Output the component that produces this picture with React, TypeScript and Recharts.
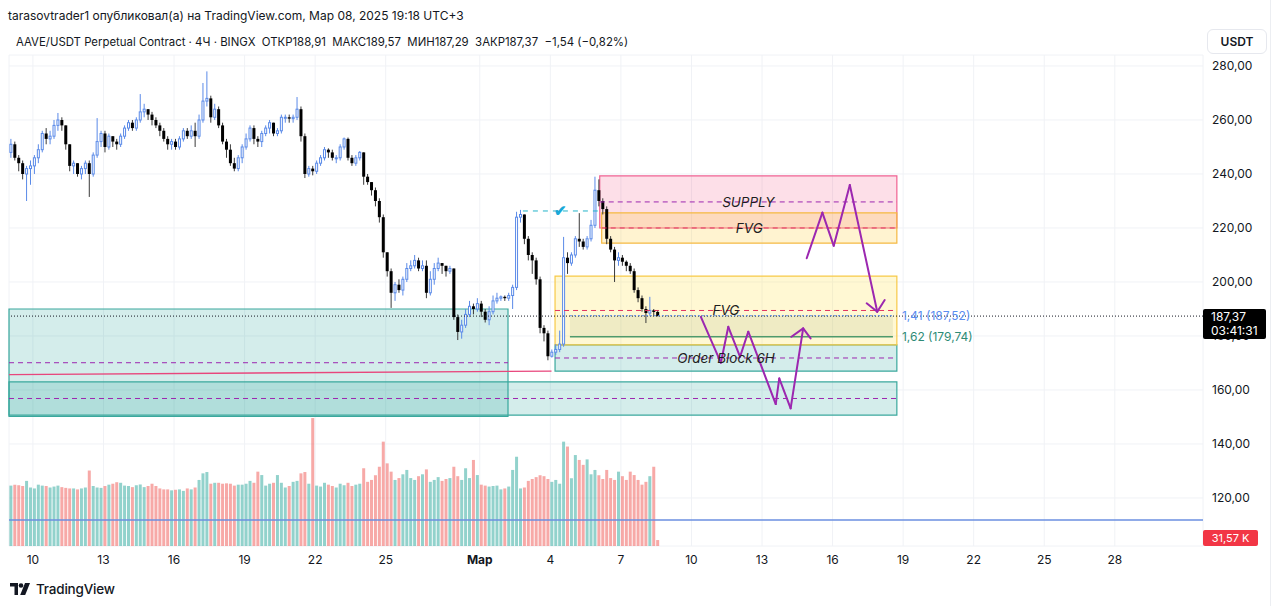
import {
  ComposedChart,
  Bar,
  XAxis,
  YAxis,
  CartesianGrid,
  ReferenceArea,
  ReferenceLine,
  Cell,
} from "recharts";

const FONT = "Inter, Roboto, 'Noto Sans', sans-serif";

// 4H candles from Feb 9 00:00, open of each = close of the previous one
const firstOpen = 248;
const closes = [
  251, 246, 244, 240, 242, 243, 246, 249, 255, 253,
  254, 258, 260, 258, 251, 243, 244, 240, 242, 244,
  240, 247, 252, 255, 250, 254, 252, 251, 254, 257,
  259, 257, 260, 263, 264, 262, 260, 258, 256, 253,
  251, 252, 250, 253, 256, 254, 256, 254, 260, 267,
  268, 261, 264, 258, 252, 249, 244, 242, 246, 250,
  253, 257, 253, 252, 255, 257, 259, 255, 256, 261,
  261, 260.5, 261, 264, 254, 240, 242, 241, 244, 246,
  249, 248, 246, 246, 250, 253, 246, 244, 246, 248,
  239, 237, 234, 230, 224, 211, 204, 196, 199, 197,
  201, 205, 206, 208, 205, 206, 196, 201, 205, 207,
  206, 204, 205, 187, 181.5, 184, 188, 191, 190, 192,
  189, 186, 189, 193, 194, 194.5, 194, 195, 198, 224,
  225, 216, 210, 208, 201, 183, 181, 172.5, 174, 175,
  177, 209, 207, 210, 216, 215, 213, 216, 221, 234,
  230, 227, 216, 212, 208, 209, 207.5, 206, 204, 197,
  194, 190, 188.5, 189.5, 188.91, 187.37,
];
const highs = [
  253, 252, 247, 245, 243, 245, 247, 251, 256, 257,
  256, 260, 262.6, 261, 258, 251, 245, 244, 243, 245,
  245, 248, 260.7, 256, 256, 255, 254, 253, 255, 258,
  260, 260, 261, 269.6, 266, 264, 263, 261, 259, 257,
  254, 253, 253, 254, 257, 257, 258, 259, 262, 273.7,
  278, 269, 266, 265, 259, 253, 251, 246, 247, 251,
  255, 258, 258, 254, 256, 258, 260, 259, 257, 262,
  262, 262, 262, 268.5, 265, 255, 243, 243, 245, 247,
  250, 249.5, 249, 247, 251, 253.5, 253.5, 247, 247, 248.5,
  248, 240, 237, 235, 231, 225, 211, 205, 200, 201,
  202, 207, 208, 210, 209, 208, 208, 204, 207, 209,
  207, 206, 206, 205, 188, 186, 190, 193, 192, 194,
  193, 190, 191, 195, 196, 195, 195, 196, 199, 226,
  226.7, 225, 217, 211, 209, 202, 184, 182, 175, 177,
  182, 216.7, 211, 211, 217, 225.5, 216, 217, 223, 239,
  238, 231, 228, 217, 213, 211, 210, 208, 207, 205,
  198, 195, 191, 194.5, 190, 189.57,
];
const lows = [
  246, 245, 241, 238, 230, 236, 240, 244, 248, 251,
  251, 253, 256, 256, 249, 241, 240, 239, 238, 240,
  231.5, 239, 246, 250, 248, 249, 250, 249, 250, 253,
  256, 256, 256, 259, 261, 260, 258, 257, 254, 252,
  249, 249, 249, 249, 252, 253, 253, 250, 253, 259,
  265, 259, 260, 257, 251, 246, 243, 241, 241, 244,
  249, 252, 251, 250, 250, 254, 255, 254, 254, 255,
  259, 259, 259, 260, 252, 238.5, 239, 239.5, 240, 243,
  245, 246, 245, 244, 245, 249, 245, 243, 243, 245,
  236, 236, 232, 228, 222, 209, 202, 190.4, 193, 196,
  195, 200, 204, 205, 204, 204, 194, 195, 199, 204,
  203, 202, 203, 186, 178.5, 179, 183, 187, 188, 189,
  187, 185, 184, 188, 192, 193, 193, 193, 190, 197,
  222, 214, 208, 203, 199, 181, 178, 171, 172, 173,
  174, 176, 203, 206, 209, 213, 212, 212, 215, 220,
  228, 225, 214, 211, 200, 206, 206, 204, 203, 196,
  192.5, 189, 184.8, 187.5, 187.5, 187.29,
];
// volume, thousands
const volumes = [
  320, 325, 322, 318, 345, 310, 305, 325, 320, 318,
  310, 315, 320, 312, 308, 305, 305, 300, 305, 310,
  400, 318, 310, 308, 318, 325, 330, 338, 335, 320,
  318, 312, 322, 326, 312, 318, 330, 318, 305, 300,
  300, 295, 298, 300, 292, 305, 300, 310, 350, 385,
  392, 330, 335, 335, 330, 332, 330, 320, 325, 325,
  330, 345, 335, 394, 376, 320, 330, 335, 376, 335,
  310, 318, 340, 345, 385, 392, 330, 678, 320, 315,
  335, 325, 318, 310, 330, 322, 335, 318, 325, 330,
  412, 340, 350, 375, 420, 553, 438, 394, 350, 360,
  380, 403, 360, 350, 370, 380, 406, 340, 350, 365,
  345, 355, 360, 420, 370, 350, 412, 360, 456, 376,
  325, 320, 315, 318, 320, 300, 305, 315, 403, 473,
  305, 310, 345, 355, 365, 375, 370, 355, 340, 350,
  330, 553, 527, 359, 482, 456, 430, 459, 380, 403,
  375, 355, 403, 360, 350, 394, 370, 350, 394, 376,
  350, 325, 340, 370, 420, 31.57,
];

const dayTicks = [6, 24, 42, 60, 78, 96, 120, 138, 156, 174, 192, 210, 228, 246, 264, 282];
const dayLabels = ["10", "13", "16", "19", "22", "25", "Мар", "4", "7", "10", "13", "16", "19", "22", "25", "28"];
const priceTicks = [120, 140, 160, 180, 200, 220, 240, 260, 280];

// drawn zones: candle-index span and price span, with the dashed midline
const zones = [
  { name: "left", t1: -0.1, t2: 127.2, top: 190.0, bottom: 150.2, label: "" },
  { name: "lower", t1: -0.1, t2: 226.4, top: 163.0, bottom: 150.7, label: "" },
  { name: "orderBlock", t1: 139.2, t2: 226.4, top: 176.7, bottom: 167.0, label: "Order Block 6H" },
  { name: "fvgLow", t1: 139.2, t2: 226.4, top: 202.2, bottom: 176.7, label: "FVG" },
  { name: "supply", t1: 150.6, t2: 226.4, top: 239.3, bottom: 220.0, label: "SUPPLY" },
  { name: "fvgHigh", t1: 151.1, t2: 226.4, top: 225.6, bottom: 214.4, label: "FVG" },
];
const fibLevels = [
  { name: "1,41", price: 187.52 },
  { name: "1,62", price: 179.74 },
];
const fibSpan = [143, 225.4];
const lastPrice = 187.37;
const lowLine = [165.7, 167.0];
const lowLineEnd = 138.3;
const retestLevel = 226.3;
const retestSpan = [131, 150.1];
const volumeLine = 111.85;

const pathUp: [number, number][] = [
  [203.4, 208.8], [207.4, 225.7], [210.3, 213.4], [214.4, 235.9], [221.4, 189.0],
];
const pathUpHead: [number, number][] = [[218.7, 192.1], [221.4, 189.0], [223.3, 193.3]];
const pathDown: [number, number][] = [
  [176.4, 187.1], [181.5, 170.1], [183.4, 183.4], [186.4, 172.3], [188.5, 181.6],
  [195.5, 154.8], [196.4, 164.3], [199.3, 153.2], [202.5, 182.8],
];
const pathDownHead: [number, number][] = [[199.5, 179.7], [202.5, 182.8], [204.4, 179.1]];

const zoneStyle: Record<string, { fill: string; stroke: string; mid: string }> = {
  left: { fill: "rgba(38,166,154,0.2)", stroke: "#3aa89d", mid: "#9c27b0" },
  lower: { fill: "rgba(38,166,154,0.2)", stroke: "#3aa89d", mid: "#9c27b0" },
  orderBlock: { fill: "rgba(38,166,154,0.2)", stroke: "#3aa89d", mid: "#9c27b0" },
  fvgLow: { fill: "rgba(255,226,80,0.25)", stroke: "#f7c948", mid: "#e0325f" },
  supply: { fill: "rgba(242,54,110,0.16)", stroke: "#f06292", mid: "#9c27b0" },
  fvgHigh: { fill: "rgba(255,205,60,0.24)", stroke: "#f5b942", mid: "#e0325f" },
};

const candles = closes.map((close, i) => {
  const open = i === 0 ? firstOpen : closes[i - 1];
  const high = Math.max(highs[i], open, close);
  const low = Math.min(lows[i], open, close);
  return { t: i + 0.5, open, close, high, low, range: [low, high], vol: volumes[i] };
});

const fmtPrice = (v: number) => v.toFixed(2).replace(".", ",");

function Candle(props: any) {
  const { x, y, width, height, payload } = props;
  if (!payload) return null;
  const top = Math.min(y, y + height);
  const h = Math.abs(height);
  const k = h / (payload.high - payload.low || 1);
  const yO = top + (payload.high - payload.open) * k;
  const yC = top + (payload.high - payload.close) * k;
  const up = payload.close >= payload.open;
  const cx = x + width / 2;
  const bTop = Math.min(yO, yC);
  const bH = Math.max(Math.abs(yC - yO), 1);
  if (up) {
    return (
      <g>
        <line x1={cx} x2={cx} y1={top} y2={top + h} stroke="#5a8ae8" strokeWidth={1} />
        <rect x={x + 0.5} y={bTop} width={width - 1} height={bH} fill="#fff" stroke="#5a8ae8" strokeWidth={1} />
      </g>
    );
  }
  return (
    <g>
      <line x1={cx} x2={cx} y1={top} y2={top + h} stroke="#3a3a3a" strokeWidth={1} />
      <rect x={x} y={bTop} width={width} height={bH} fill="#000" />
    </g>
  );
}

function DayTick(props: any) {
  const { x, y, payload } = props;
  const label = dayLabels[dayTicks.indexOf(payload.value)] ?? "";
  return (
    <text x={x} y={y} dy={10} textAnchor="middle" fontSize={12} fontFamily={FONT}
      fontWeight={label === "Мар" ? 700 : 400} fill="#131722">
      {label}
    </text>
  );
}

function segs(points: [number, number][]) {
  const out = [];
  for (let i = 1; i < points.length; i++) out.push([points[i - 1], points[i]]);
  return out;
}

export default function App() {
  const arrowSegs = [...segs(pathUp), ...segs(pathUpHead), ...segs(pathDown), ...segs(pathDownHead)];
  return (
    <div style={{ position: "absolute", left: 0, top: 0, width: 1280, height: 606, background: "#fff", overflow: "hidden", fontFamily: FONT, color: "#131722" }}>
      <ComposedChart width={1280} height={606} data={candles} margin={{ top: 55, right: 0, left: 9, bottom: 30 }}>
        <CartesianGrid xAxisId="main" yAxisId="price" stroke="#f0f2f6" strokeWidth={1} />
        <XAxis xAxisId="main" dataKey="t" type="number" domain={[-0.1, 304.5]} allowDataOverflow
          ticks={dayTicks} interval={0} tick={<DayTick />} tickLine={false} axisLine={false}
          tickSize={0} tickMargin={8} height={30} />
        <XAxis xAxisId="v" dataKey="t" type="number" domain={[-0.1, 304.5]} allowDataOverflow hide />
        <YAxis yAxisId="price" orientation="right" type="number" domain={[102.22, 284.07]} allowDataOverflow
          ticks={priceTicks} interval={0} tickFormatter={fmtPrice} width={77} axisLine={false} tickLine={false}
          tickSize={0} tickMargin={9} tick={{ fill: "#131722", fontSize: 12, fontFamily: FONT }} />
        <YAxis yAxisId="vol" hide domain={[0, 2602]} allowDataOverflow />

        <Bar xAxisId="v" yAxisId="vol" dataKey="vol" barSize={3} isAnimationActive={false}>
          {candles.map((c, i) => (
            <Cell key={i} fill={c.close >= c.open ? "rgba(38,166,154,0.5)" : "rgba(239,83,80,0.5)"} />
          ))}
        </Bar>

        <ReferenceLine xAxisId="main" yAxisId="price" y={volumeLine} stroke="#6b8fe0" strokeWidth={1.5} />

        {zones.map((z) => (
          <ReferenceArea key={z.name} xAxisId="main" yAxisId="price" x1={z.t1} x2={z.t2} y1={z.bottom} y2={z.top}
            fill={zoneStyle[z.name].fill} fillOpacity={1} stroke={zoneStyle[z.name].stroke} strokeWidth={1.2}
            ifOverflow="visible" />
        ))}
        <ReferenceArea xAxisId="main" yAxisId="price" x1={fibSpan[0]} x2={fibSpan[1]} y1={fibLevels[1].price}
          y2={fibLevels[0].price} fill="rgba(120,150,90,0.12)" fillOpacity={1} stroke="none" />

        <Bar xAxisId="main" yAxisId="price" dataKey="range" barSize={3} shape={<Candle />} isAnimationActive={false} />

        {zones.map((z) => (
          <ReferenceLine key={"m" + z.name} xAxisId="main" yAxisId="price" ifOverflow="visible"
            segment={[{ x: z.t1, y: (z.top + z.bottom) / 2 }, { x: z.t2, y: (z.top + z.bottom) / 2 }]}
            stroke={zoneStyle[z.name].mid} strokeWidth={1} strokeDasharray="5 4"
            label={z.label ? { value: z.label, position: "center", fill: "#1e1e1e", fontSize: 13.5, fontStyle: "italic", fontFamily: FONT } : undefined} />
        ))}

        <ReferenceLine xAxisId="main" yAxisId="price" ifOverflow="visible"
          segment={[{ x: -0.1, y: lowLine[0] }, { x: lowLineEnd, y: lowLine[1] }]} stroke="#e8467c" strokeWidth={1.3} />

        <ReferenceLine xAxisId="main" yAxisId="price" y={lastPrice} stroke="#131722" strokeWidth={1} strokeDasharray="1 2" />

        <ReferenceLine xAxisId="main" yAxisId="price"
          segment={[{ x: fibSpan[0], y: fibLevels[0].price }, { x: fibSpan[1], y: fibLevels[0].price }]}
          stroke="#5b8def" strokeWidth={1} strokeDasharray="2 2"
          label={{ value: `${fibLevels[0].name} (${fmtPrice(fibLevels[0].price)})`, position: "right", offset: 9, fill: "#5b8def", fontSize: 12, fontFamily: FONT }} />
        <ReferenceLine xAxisId="main" yAxisId="price"
          segment={[{ x: fibSpan[0], y: fibLevels[1].price }, { x: fibSpan[1], y: fibLevels[1].price }]}
          stroke="#4f9a6c" strokeWidth={1.5}
          label={{ value: `${fibLevels[1].name} (${fmtPrice(fibLevels[1].price)})`, position: "right", offset: 9, fill: "#2e8b76", fontSize: 12, fontFamily: FONT }} />

        <ReferenceLine xAxisId="main" yAxisId="price"
          segment={[{ x: retestSpan[0], y: retestLevel }, { x: retestSpan[1], y: retestLevel }]}
          stroke="#22b3c9" strokeWidth={1} strokeDasharray="5 5"
          label={{ value: "✔", position: "center", fill: "#1aa8d8", fontSize: 15, fontWeight: 700 }} />

        {arrowSegs.map((s, i) => (
          <ReferenceLine key={"a" + i} xAxisId="main" yAxisId="price" ifOverflow="visible"
            segment={[{ x: s[0][0], y: s[0][1] }, { x: s[1][0], y: s[1][1] }]}
            stroke="#9c27b0" strokeWidth={2} strokeLinecap="round" />
        ))}
      </ComposedChart>

      <div style={{ position: "absolute", left: 8, top: 8, fontSize: 12, lineHeight: "16px", whiteSpace: "nowrap" }}>
        tarasovtrader1 опубликовал(а) на TradingView.com, Мар 08, 2025 19:18 UTC+3
      </div>
      <div style={{ position: "absolute", left: 16, top: 34, fontSize: 11.4, lineHeight: "16px", whiteSpace: "nowrap" }}>
        AAVE/USDT Perpetual Contract · 4Ч · BINGX&nbsp; ОТКР188,91&nbsp; МАКС189,57&nbsp; МИН187,29&nbsp; ЗАКР187,37&nbsp; −1,54 (−0,82%)
      </div>
      <div style={{ position: "absolute", left: 1207, top: 29, width: 60, height: 25, border: "1px solid #e6e8ee", borderRadius: 6, boxSizing: "border-box", fontSize: 12, fontWeight: 600, lineHeight: "23px", textAlign: "center" }}>
        USDT
      </div>
      <div style={{ position: "absolute", left: 1203, top: 309, width: 63, height: 30, background: "#000", borderRadius: 2, color: "#fff", fontSize: 12, lineHeight: "14px", padding: "1px 0 0 8px", boxSizing: "border-box" }}>
        <div>{fmtPrice(lastPrice)}</div>
        <div>03:41:31</div>
      </div>
      <div style={{ position: "absolute", left: 1203, top: 530, width: 55, height: 16, background: "#f23645", borderRadius: 2, color: "#fff", fontSize: 11, lineHeight: "16px", textAlign: "center" }}>
        31,57 K
      </div>
      <div style={{ position: "absolute", left: 1270, top: 0, width: 1, height: 606, background: "#eceef2" }} />
      <div style={{ position: "absolute", left: 10, top: 581, display: "flex", alignItems: "center", gap: 5 }}>
        <svg width={21} height={14} viewBox="0 0 21 14">
          <path d="M0 1h8v12h-3.5v-8.5h-4.5z" fill="#131722" />
          <circle cx={11} cy={3.5} r={2.3} fill="#131722" />
          <path d="M15 1h5l-4.8 12h-5z" fill="#131722" />
        </svg>
        <span style={{ fontSize: 13.5, fontWeight: 500, letterSpacing: -0.2 }}>TradingView</span>
      </div>
    </div>
  );
}
